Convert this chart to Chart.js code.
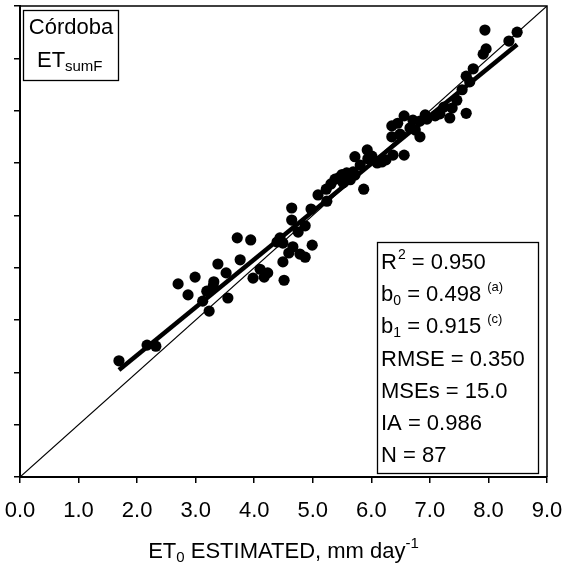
<!DOCTYPE html>
<html>
<head>
<meta charset="utf-8">
<script src="https://cdn.jsdelivr.net/npm/chart.js@4.4.1/dist/chart.umd.min.js"></script>
<style>
  html, body { margin: 0; padding: 0; background: #fff; }
  #wrap { width: 581px; height: 571px; }
</style>
</head>
<body>
<div id="wrap"><canvas id="chart"></canvas></div>
<script>
// ET0 estimated (x) vs measured (y), mm day-1
const etEstimated = [
    1.69, 2.17, 2.32, 2.70, 2.87, 2.99, 3.12, 3.19, 3.23, 3.30,
    3.31, 3.38, 3.52, 3.55, 3.71, 3.76, 3.94, 3.98, 4.10, 4.17,
    4.23, 4.39, 4.44, 4.49, 4.49, 4.51, 4.59, 4.66, 4.64, 4.64,
    4.75, 4.78, 4.87, 4.87, 4.97, 4.99, 5.09, 5.23, 5.24, 5.31,
    5.38, 5.46, 5.50, 5.52, 5.58, 5.64, 5.69, 5.72, 5.87, 5.72,
    5.81, 5.93, 5.94, 6.01, 6.10, 6.18, 6.25, 6.37, 6.56, 6.35,
    6.35, 6.45, 6.49, 6.56, 6.66, 6.71, 6.75, 6.83, 6.83, 6.92,
    6.95, 7.09, 7.17, 7.24, 7.34, 7.38, 7.46, 7.62, 7.55, 7.62,
    7.68, 7.74, 7.91, 7.96, 7.94, 8.35, 8.49,
];
const etMeasured = [
    2.22, 2.52, 2.50, 3.69, 3.48, 3.82, 3.36, 3.55, 3.17, 3.65,
    3.73, 4.07, 3.90, 3.42, 4.57, 4.15, 4.53, 3.80, 3.97, 3.82,
    3.90, 4.49, 4.57, 4.47, 4.11, 3.76, 4.28, 4.40, 4.91, 5.14,
    4.68, 4.26, 4.20, 4.80, 5.12, 4.43, 5.39, 5.50, 5.27, 5.60,
    5.69, 5.73, 5.78, 5.62, 5.81, 5.68, 5.83, 5.77, 5.50, 6.12,
    5.96, 6.25, 6.08, 6.13, 6.00, 6.02, 6.06, 6.15, 6.15, 6.71,
    6.50, 6.76, 6.55, 6.90, 6.67, 6.82, 6.63, 6.50, 6.80, 6.92,
    6.84, 6.90, 6.94, 7.07, 6.86, 7.05, 7.20, 6.95, 7.40, 7.66,
    7.55, 7.80, 8.08, 8.18, 8.54, 8.33, 8.50,
];
const xTicks = [0, 1, 2, 3, 4, 5, 6, 7, 8, 9];

// regression y = b0 + b1 x
const b0 = 0.498;
const b1 = 0.915;
const xMin = Math.min(...etEstimated);
const xMax = Math.max(...etEstimated);

const stats = [
    { main: "R", sup: "2", rest: " = 0.950" },
    { main: "b", sub: "0", rest: " = 0.498", note: "(a)" },
    { main: "b", sub: "1", rest: " = 0.915", note: "(c)" },
    { main: "RMSE = 0.350" },
    { main: "MSEs = 15.0" },
    { main: "IA = 0.986" },
    { main: "N = 87" },
];

const FONT = "'Liberation Sans', Arial, sans-serif";

// Plugin: frame, text boxes, axis title
const decorPlugin = {
    id: "decor",
    afterDraw(chart) {
        const ctx = chart.ctx;
        const a = chart.chartArea;
        ctx.save();
        ctx.fillStyle = "#000";
        ctx.strokeStyle = "#000";

        // top + right frame
        ctx.lineWidth = 1.5;
        ctx.beginPath();
        ctx.moveTo(a.left, a.top);
        ctx.lineTo(a.right, a.top);
        ctx.lineTo(a.right, a.bottom);
        ctx.stroke();

        // Córdoba box
        ctx.lineWidth = 1.3;
        ctx.strokeRect(a.left + 3.5, a.top + 4.5, 95, 70);
        ctx.textBaseline = "middle";
        ctx.textAlign = "center";
        ctx.font = `22px ${FONT}`;
        ctx.fillText("Córdoba", a.left + 51, a.top + 22);
        ctx.textAlign = "left";
        ctx.fillText("ET", a.left + 17, a.top + 55);
        ctx.font = `15px ${FONT}`;
        ctx.fillText("sumF", a.left + 45, a.top + 61);

        // stats box
        ctx.strokeRect(377.5, 242.5, 161, 231);
        let y = 263;
        stats.forEach((s) => {
            let x = 381;
            ctx.font = `22px ${FONT}`;
            ctx.fillText(s.main, x, y);
            x += ctx.measureText(s.main).width;
            if (s.sup) {
                ctx.font = `14px ${FONT}`;
                ctx.fillText(s.sup, x + 1, y - 8);
                x += ctx.measureText(s.sup).width + 1;
            }
            if (s.sub) {
                ctx.font = `14px ${FONT}`;
                ctx.fillText(s.sub, x, y + 6);
                x += ctx.measureText(s.sub).width;
            }
            if (s.rest) {
                ctx.font = `22px ${FONT}`;
                ctx.fillText(s.rest, x, y);
                x += ctx.measureText(s.rest).width;
            }
            if (s.note) {
                ctx.font = `13px ${FONT}`;
                ctx.fillText(s.note, x + 6, y - 8);
            }
            y += 32.2;
        });

        // x axis title: ET0 ESTIMATED, mm day-1
        const parts = [
            { t: "ET", f: 22, dy: 0 },
            { t: "0", f: 15, dy: 6 },
            { t: " ESTIMATED, mm day", f: 22, dy: 0 },
            { t: "-1", f: 15, dy: -8 },
        ];
        let total = 0;
        parts.forEach((p) => {
            ctx.font = `${p.f}px ${FONT}`;
            p.w = ctx.measureText(p.t).width;
            total += p.w;
        });
        let tx = (a.left + a.right) / 2 - total / 2;
        parts.forEach((p) => {
            ctx.font = `${p.f}px ${FONT}`;
            ctx.fillText(p.t, tx, 552 + p.dy);
            tx += p.w;
        });
        ctx.restore();
    },
};

new Chart(document.getElementById("chart"), {
    type: "scatter",
    data: {
        datasets: [
            {
                label: "data",
                data: etEstimated.map((x, i) => ({ x: x, y: etMeasured[i] })),
                backgroundColor: "#000",
                borderWidth: 0,
                pointRadius: 5.6,
                pointHoverRadius: 5.6,
            },
            {
                label: "fit",
                type: "line",
                data: [
                    { x: xMin, y: b0 + b1 * xMin },
                    { x: xMax, y: b0 + b1 * xMax },
                ],
                borderColor: "#000",
                borderWidth: 4.5,
                pointRadius: 0,
            },
            {
                label: "1:1",
                type: "line",
                data: [
                    { x: 0, y: 0 },
                    { x: 9, y: 9 },
                ],
                borderColor: "#000",
                borderWidth: 1.2,
                pointRadius: 0,
            },
        ],
    },
    options: {
        responsive: true,
        maintainAspectRatio: false,
        animation: false,
        events: [],
        layout: { padding: { left: 14, right: 34, top: 6, bottom: 0 } },
        plugins: {
            legend: { display: false },
            tooltip: { enabled: false },
        },
        scales: {
            x: {
                type: "linear",
                min: 0,
                max: 9,
                afterBuildTicks: (scale) => {
                    scale.ticks = xTicks.map((v) => ({ value: v }));
                },
                afterFit: (scale) => {
                    scale.height = 94;
                    // labels may overhang the plot edge, like the original
                    scale.paddingLeft = 0;
                    scale.paddingRight = 0;
                },
                ticks: {
                    color: "#000",
                    font: { family: FONT, size: 22 },
                    padding: 15,
                    maxRotation: 0,
                    callback: (v) => v.toFixed(1),
                },
                grid: {
                    drawOnChartArea: false,
                    drawTicks: true,
                    tickLength: 6,
                    color: "#000",
                    lineWidth: 1.5,
                },
                border: { color: "#000", width: 2 },
            },
            y: {
                type: "linear",
                min: 0,
                max: 9,
                ticks: { display: false, stepSize: 1 },
                afterFit: (scale) => {
                    scale.width = 6;
                },
                grid: {
                    drawOnChartArea: false,
                    drawTicks: true,
                    tickLength: 6,
                    color: "#000",
                    lineWidth: 1.5,
                },
                border: { color: "#000", width: 2 },
            },
        },
    },
    plugins: [decorPlugin],
});
</script>
</body>
</html>
